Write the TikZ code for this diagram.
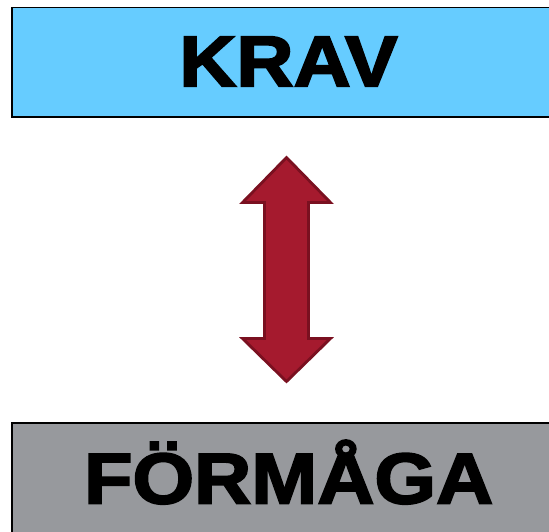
\documentclass[tikz,border=0pt]{standalone}
\usepackage{fontspec}
\newfontfamily\heavyfont[FakeBold=2.5]{Liberation Sans Bold}
\definecolor{kravblue}{RGB}{102,204,255}
\definecolor{formgray}{RGB}{151,153,157}
\definecolor{arrowred}{RGB}{165,26,46}
\definecolor{arrowedge}{RGB}{122,16,32}
\tikzset{
  boxstyle/.style={draw=black, line width=1.6pt},
  bigtext/.style={font=\heavyfont\fontsize{72}{80}\selectfont, inner sep=0pt, anchor=base, xscale=1.1},
  arrowshape/.style={fill=arrowred, draw=arrowedge, line width=2.8pt, line join=miter}
}
\begin{document}
\begin{tikzpicture}[x=1pt,y=-1pt]
\useasboundingbox (0,0) rectangle (549,531);
\clip (0,0) rectangle (549,531);
% boxes
\draw[boxstyle, fill=kravblue] (12,7.5) rectangle (562,117);
\draw[boxstyle, fill=formgray] (12,423) rectangle (562,545);
\node[bigtext] (krav) at (288.5,86.2) {KRAV};
\node[bigtext] (formaga) at (288.7,503.5) {FÖRMÅGA};
% double arrow
\draw[arrowshape] (286.5,157.5) -- (330.5,202.5) -- (308.5,202.5) -- (308.5,338.5)
  -- (330.5,338.5) -- (286.5,381.5) -- (242.5,338.5) -- (264.5,338.5)
  -- (264.5,202.5) -- (242.5,202.5) -- cycle;
\end{tikzpicture}
\end{document}
